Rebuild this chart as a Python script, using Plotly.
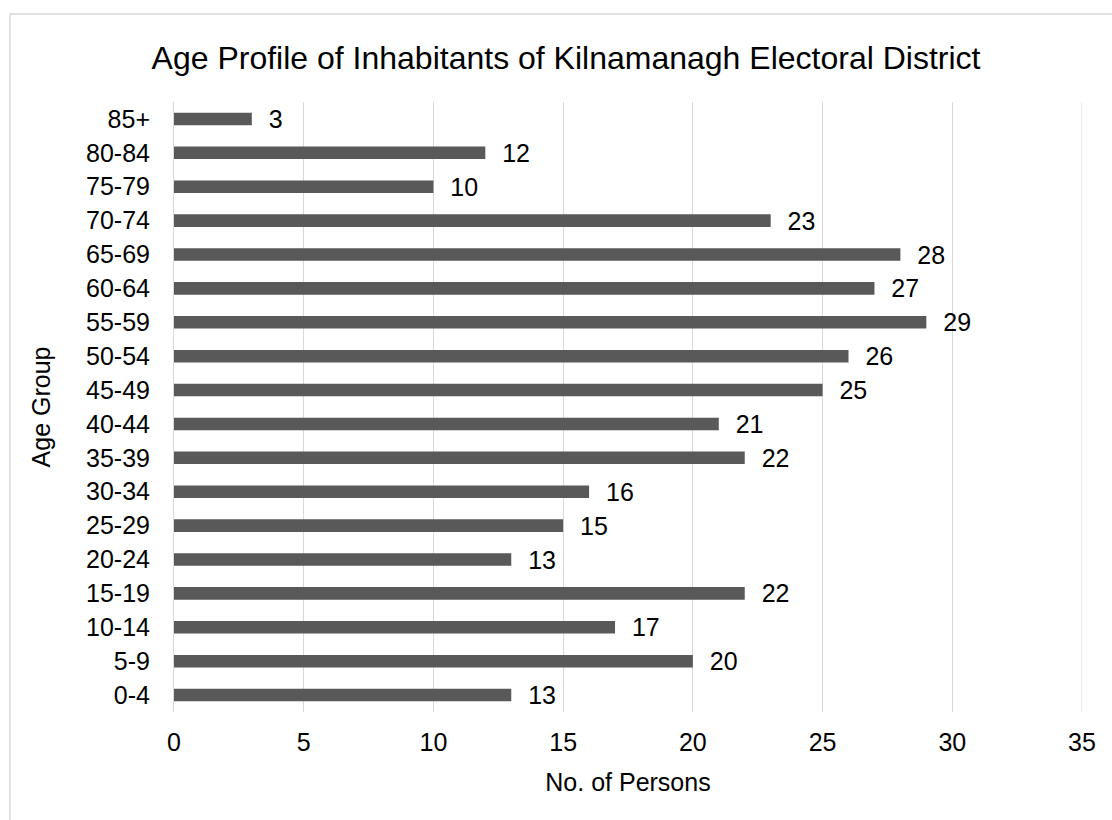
import plotly.graph_objects as go

age_groups = ["0-4", "5-9", "10-14", "15-19", "20-24", "25-29", "30-34", "35-39",
              "40-44", "45-49", "50-54", "55-59", "60-64", "65-69", "70-74",
              "75-79", "80-84", "85+"]
persons = [13, 20, 17, 22, 13, 15, 16, 22, 21, 25, 26, 29, 27, 28, 23, 10, 12, 3]
x_ticks = [0, 5, 10, 15, 20, 25, 30, 35]

W, H = 1112, 820
ML, MR, MT, MB = 174, 30, 102, 108
PW, PH = W - ML - MR, H - MT - MB

font = "Liberation Sans, Arial, sans-serif"
FS = 25

fig = go.Figure(go.Bar(
    x=persons, y=age_groups, orientation="h",
    marker=dict(color="#595959", line=dict(width=0)),
    text=persons, texttemplate="\u00a0\u00a0%{x}", textposition="outside",
    cliponaxis=False, constraintext="none",
    textfont=dict(size=FS, color="#000000", family=font),
    width=0.37,
))

fig.update_layout(
    width=W, height=H,
    margin=dict(l=ML, r=MR, t=MT, b=MB),
    paper_bgcolor="white", plot_bgcolor="white",
    font=dict(family=font, color="#000000", size=FS),
    title=dict(text="Age Profile of Inhabitants of Kilnamanagh Electoral District",
               xref="paper", x=(566 - ML) / PW, xanchor="center",
               y=1 - 58 / H, yanchor="middle",
               font=dict(size=32, color="#000000", family=font)),
    showlegend=False,
    xaxis=dict(range=[0, 35], tickvals=x_ticks, showgrid=True, gridcolor="#d9d9d9",
               gridwidth=1, zeroline=False, showline=False,
               ticks="outside", ticklen=8, tickcolor="rgba(0,0,0,0)",
               tickfont=dict(size=FS),
               title=dict(text="No. of Persons", font=dict(size=FS), standoff=18)),
    yaxis=dict(categoryorder="array", categoryarray=age_groups, range=[-0.5, 17.5],
               showgrid=False, zeroline=False, showline=True, linecolor="#d9d9d9",
               linewidth=1, ticks="outside", ticklen=18, tickcolor="rgba(0,0,0,0)",
               tickfont=dict(size=FS),
               title=dict(text="Age Group", font=dict(size=FS), standoff=28)),
)

# gridline at the last tick, which sits on the plot edge
fig.add_shape(type="line", xref="x", yref="paper", x0=x_ticks[-1], x1=x_ticks[-1],
              y0=0, y1=1, line=dict(color="#d9d9d9", width=1), layer="below")

# outer chart border (only top and left visible in the frame)
x0 = (10 - ML) / PW
y1 = 1 + (MT - 14) / PH
fig.add_shape(type="rect", xref="paper", yref="paper",
              x0=x0, x1=(W + 20 - ML) / PW, y0=-(MB + 20) / PH, y1=y1,
              line=dict(color="#d9d9d9", width=1.5), layer="below")

fig.write_html("out.html")
